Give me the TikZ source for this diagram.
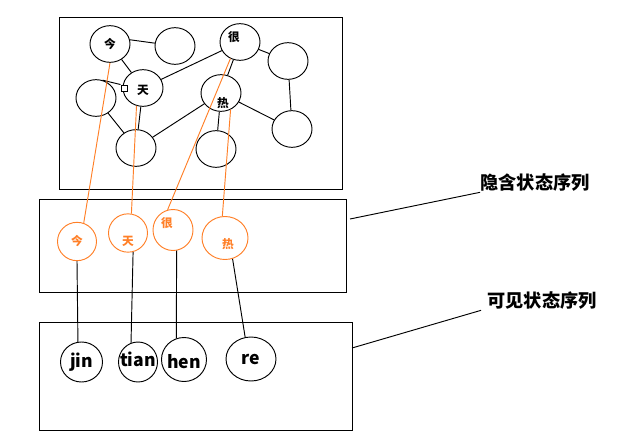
\documentclass[tikz,border=0pt]{standalone}
\usepackage{fontspec}
\setmainfont{Noto Sans CJK SC}
\usetikzlibrary{shapes.geometric}
\definecolor{hidorange}{RGB}{255,127,39}
\begin{document}
\begin{tikzpicture}[x=0.03cm, y=-0.03cm, line width=0.8pt,
  word/.style={ellipse, draw, inner sep=0pt, minimum width=1.2cm, minimum height=1.1cm},
  hid/.style={ellipse, draw=hidorange, inner sep=0pt, minimum width=1.17cm, minimum height=1.15cm},
  obs/.style={ellipse, draw, inner sep=0pt, minimum width=1.26cm, minimum height=1.2cm},
  wtxt/.style={font=\bfseries\fontsize{10}{12}\selectfont},
  htxt/.style={text=hidorange, font=\bfseries\fontsize{10}{12}\selectfont},
  otxt/.style={font=\bfseries\fontsize{15}{18}\selectfont},
  side/.style={font=\bfseries\fontsize{15.5}{18}\selectfont, inner sep=0pt}]
  \useasboundingbox (0,0) rectangle (644,446);
  \draw (59,17) rectangle (342,189);
  \draw (39,199) rectangle (346,292);
  \draw (39,322) rectangle (352,430);
  \node[word, label={[wtxt]center:今}] (jin0) at (110,44) {};
  \node[word] (e1) at (175,46) {};
  \node[word, label={[wtxt, xshift=-0.18cm, yshift=0.15cm]center:很}] (hen0) at (240,42) {};
  \node[word] (e2) at (288,61) {};
  \node[word, label={[wtxt, yshift=-0.06cm]center:天}] (tian0) at (143,88) {};
  \node[word] (e3) at (96,98) {};
  \node[word, label={[wtxt, xshift=0.06cm, yshift=-0.3cm]center:热}] (re0) at (221,93) {};
  \node[word] (e4) at (136,148) {};
  \node[word] (e5) at (292,129) {};
  \node[word] (e6) at (216,149) {};
  \node[draw, fill=white, inner sep=0pt, minimum size=0.18cm] (sq) at (124,88) {};
  \draw (jin0.12) -- (e1.172);
  \draw (jin0) -- (tian0);
  \draw (e3.70) -- (sq.north west);
  \draw (e3) -- (e4);
  \draw (tian0) -- (e4);
  \draw (tian0) -- (hen0);
  \draw (hen0) -- (re0);
  \draw (hen0) -- (e2);
  \draw (e2) -- (e5);
  \draw (re0) -- (e5);
  \draw (re0) -- (e6);
  \draw (e4) -- (re0);
  \node[hid, label={[htxt]center:今}] (jin1) at (77,241.5) {};
  \node[hid, label={[htxt, yshift=-0.24cm]center:天}] (tian1) at (128,233) {};
  \node[hid, minimum width=1.2cm, minimum height=1.23cm, label={[htxt, xshift=-0.18cm, yshift=0.21cm]center:很}] (hen1) at (173,230) {};
  \node[hid, minimum width=1.38cm, minimum height=1.29cm, label={[htxt, xshift=0.09cm, yshift=-0.18cm]center:热}] (re1) at (225,238) {};
  \draw[hidorange] (jin0.south) -- (jin1.70);
  \draw[hidorange] (tian0.250) -- (tian1.80);
  \draw[hidorange] (hen0.240) -- (hen1.105);
  \draw[hidorange] (re0.300) -- (re1.97);
  \node[obs, label={[otxt]center:jin}] (jin2) at (81.5,362) {};
  \node[obs, minimum width=1.17cm, label={[otxt, yshift=0.09cm]center:tian}] (tian2) at (138,362) {};
  \node[obs, minimum width=1.35cm, minimum height=1.32cm, label={[otxt, yshift=-0.05cm]center:hen}] (hen2) at (184,359.5) {};
  \node[obs, minimum width=1.5cm, minimum height=1.32cm, label={[otxt]center:re}] (re2) at (251,359) {};
  \draw (jin1.south) -- (jin2.100);
  \draw (tian1.285) -- (tian2.110);
  \draw (hen1.280) -- (hen2.110);
  \draw (re1.290) -- (re2.105);
  \node[side] (hidlbl) at (535,183) {隐含状态序列};
  \node[side] (obslbl) at (542,301) {可见状态序列};
  \coordinate (hidend) at (350,219);
  \coordinate (obsend) at (352,348);
  \draw (hidend) -- (hidlbl.south west);
  \draw (obsend) -- ([xshift=-0.18cm]obslbl.south west);
\end{tikzpicture}
\end{document}
